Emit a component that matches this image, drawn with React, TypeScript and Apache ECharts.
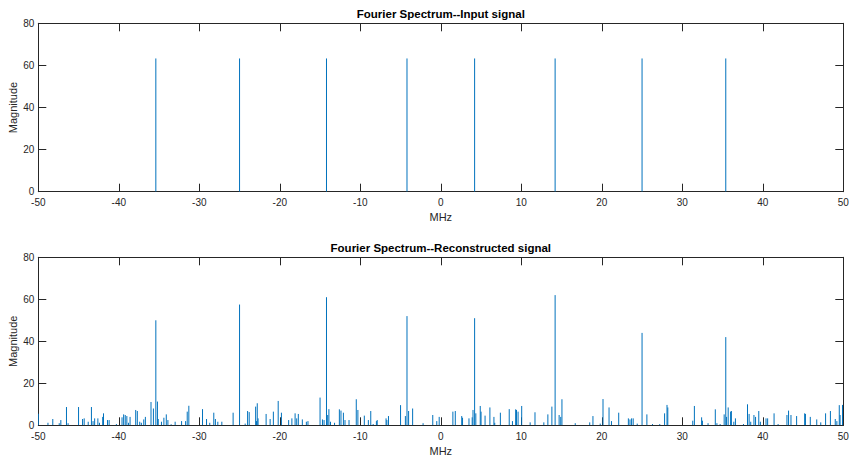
import React, { useEffect, useRef } from "react";
import * as echarts from "echarts";

// Tick labels
const xTicks = [-50, -40, -30, -20, -10, 0, 10, 20, 30, 40, 50];
const yTicks = [0, 20, 40, 60, 80];

// Input signal spectrum (MHz, magnitude)
const inputFreq = [-35.4, -25.0, -14.2, -4.2, 4.2, 14.2, 25.0, 35.4];
const inputMag = [63.3, 63.3, 63.3, 63.3, 63.3, 63.3, 63.3, 63.3];

// Reconstructed signal spectrum (MHz, magnitude)
const reconFreq = [
  -50.0, -48.8, -48.2, -47.4, -47.2, -46.5, -46.3, -45.0, -44.5, -44.3, -43.8, -43.4, -43.2, -43.0,
  -42.6, -42.4, -42.0, -41.9, -41.4, -41.2, -40.3, -39.6, -39.4, -39.2, -39.0, -38.8, -38.6, -37.9,
  -37.7, -37.4, -37.2, -36.9, -36.7, -36.0, -35.7, -35.4, -35.2, -35.1, -34.7, -34.4, -34.1, -33.9,
  -33.5, -33.0, -32.2, -31.7, -31.5, -31.3, -29.6, -29.1, -28.7, -28.2, -28.0, -27.7, -27.2, -25.8,
  -25.0, -24.3, -24.0, -23.8, -23.0, -22.9, -22.8, -22.7, -21.7, -21.2, -20.8, -20.2, -19.8, -18.9,
  -18.5, -18.1, -17.9, -17.7, -17.2, -16.7, -16.5, -15.0, -14.7, -14.5, -14.2, -14.05, -13.9, -13.7,
  -13.2, -12.6, -12.4, -12.1, -11.9, -11.4, -10.5, -10.3, -9.5, -9.0, -8.7, -8.4, -8.0, -7.9,
  -6.8, -6.7, -6.5, -5.0, -4.4, -4.2, -4.0, -3.5, -2.2, -1.0, -0.5, -0.2, 1.5, 1.8,
  2.6, 2.7, 3.5, 3.9, 4.0, 4.2, 4.35, 4.9, 5.0, 5.5, 6.1, 6.6, 6.7, 7.4,
  8.5, 8.9, 9.3, 9.4, 9.6, 10.05, 11.1, 11.7, 12.8, 13.3, 13.8, 14.2, 14.7, 14.9,
  15.05, 16.7, 18.5, 18.9, 19.8, 20.15, 20.9, 21.2, 22.1, 23.3, 23.5, 23.7, 23.9, 24.4,
  25.0, 25.6, 26.3, 27.2, 27.8, 28.1, 28.2, 31.3, 31.5, 32.4, 32.5, 33.2, 34.1, 34.3,
  34.7, 35.2, 35.4, 35.5, 35.7, 36.0, 36.1, 36.4, 36.6, 37.6, 38.1, 38.3, 38.5, 38.9,
  39.1, 39.5, 39.7, 40.4, 40.6, 41.4, 41.9, 43.0, 43.2, 43.5, 44.2, 45.2, 45.3, 45.9,
  46.7, 47.2, 47.8, 48.4, 49.0, 49.2, 49.5, 49.6, 49.9,
];
const reconMag = [
  5.5, 1.2, 3.0, 1.0, 2.5, 8.7, 1.0, 8.7, 3.0, 3.3, 1.7, 8.7, 2.0, 3.3,
  3.3, 1.2, 4.0, 5.7, 2.5, 2.5, 0.6, 3.8, 5.2, 4.9, 4.4, 1.2, 4.0, 7.3,
  6.8, 1.7, 1.2, 2.8, 4.0, 11.1, 8.0, 50.0, 11.3, 3.0, 1.7, 3.6, 5.2, 2.5,
  0.5, 1.7, 2.0, 2.0, 6.5, 9.3, 7.7, 3.0, 1.2, 6.0, 3.0, 1.7, 1.7, 6.0,
  57.5, 0.8, 6.8, 6.3, 8.9, 2.0, 10.5, 3.3, 5.4, 3.0, 6.5, 11.6, 6.0, 2.5,
  3.3, 5.7, 3.3, 5.4, 2.8, 1.7, 2.0, 13.2, 2.8, 2.5, 61.0, 4.9, 7.7, 1.7,
  1.2, 7.6, 7.0, 6.0, 2.5, 2.5, 12.4, 7.3, 4.6, 2.5, 6.8, 0.6, 2.0, 2.5,
  3.3, 2.5, 4.4, 9.6, 4.4, 52.0, 6.8, 8.0, 1.0, 4.9, 2.0, 4.0, 6.5, 6.8,
  4.4, 3.6, 3.3, 3.8, 7.3, 51.0, 5.7, 9.2, 6.5, 4.6, 8.5, 4.0, 1.2, 6.0,
  7.7, 2.0, 7.6, 7.3, 6.5, 9.2, 1.4, 6.2, 1.4, 5.2, 8.9, 62.0, 4.9, 4.0,
  12.4, 1.0, 1.4, 4.4, 0.8, 12.5, 8.5, 2.0, 6.0, 3.3, 2.8, 3.3, 3.3, 0.8,
  44.0, 5.2, 0.6, 0.6, 5.7, 9.7, 8.5, 2.2, 9.2, 3.8, 2.2, 1.0, 7.6, 1.0,
  0.6, 5.2, 42.0, 4.0, 8.5, 6.5, 6.8, 1.7, 3.3, 0.6, 10.0, 5.4, 1.7, 4.9,
  4.0, 6.8, 1.7, 3.3, 3.3, 5.7, 0.6, 4.9, 7.0, 4.9, 4.4, 5.7, 5.4, 4.0,
  2.8, 1.4, 5.7, 6.8, 3.0, 2.0, 9.6, 4.9, 9.7,
];

const titles = ["Fourier Spectrum--Input signal", "Fourier Spectrum--Reconstructed signal"];
const xName = "MHz";
const yName = "Magnitude";

const AXIS_COLOR = "#262626";
const STEM_COLOR = "#0072BD";
const FONT = "Liberation Sans, Arial, Helvetica, sans-serif";

function stemRender(params: any, api: any) {
  const x = api.value(0);
  const y = api.value(1);
  const p0 = api.coord([x, 0]);
  const p1 = api.coord([x, y]);
  return {
    type: "line",
    shape: { x1: p0[0], y1: p0[1], x2: p1[0], y2: p1[1] },
    style: { stroke: STEM_COLOR, lineWidth: 1 },
  };
}

export default function App() {
  const ref = useRef<HTMLDivElement>(null);
  useEffect(() => {
    if (!ref.current) return;
    const chart = echarts.init(ref.current, undefined, { renderer: "svg" });
    const grids = [
      { left: 38.3, top: 23.3, width: 805, height: 168.4, containLabel: false, outerBoundsMode: "none" },
      { left: 38.3, top: 257.3, width: 805, height: 168, containLabel: false, outerBoundsMode: "none" },
    ];
    const xAxes: any[] = [];
    const yAxes: any[] = [];
    grids.forEach((g, i) => {
      const baseX = {
        type: "value",
        gridIndex: i,
        min: xTicks[0],
        max: xTicks[xTicks.length - 1],
        interval: 10,
        splitLine: { show: false },
        axisLine: { show: true, onZero: false, lineStyle: { color: AXIS_COLOR, width: 1 } },
        axisTick: { show: true, inside: true, length: 8, lineStyle: { color: AXIS_COLOR, width: 1 } },
      };
      xAxes.push({
        ...baseX,
        position: "bottom",
        name: xName,
        nameLocation: "middle",
        nameGap: 20,
        nameMoveOverlap: false,
        nameTextStyle: { color: AXIS_COLOR, fontSize: 11, fontFamily: FONT },
        axisLabel: { show: true, color: AXIS_COLOR, fontSize: 10, fontFamily: FONT, margin: 6 },
      });
      xAxes.push({ ...baseX, position: "top", axisLabel: { show: false } });
      const baseY = {
        type: "value",
        gridIndex: i,
        min: yTicks[0],
        max: yTicks[yTicks.length - 1],
        interval: 20,
        splitLine: { show: false },
        axisLine: { show: true, onZero: false, lineStyle: { color: AXIS_COLOR, width: 1 } },
        axisTick: { show: true, inside: true, length: 8, lineStyle: { color: AXIS_COLOR, width: 1 } },
      };
      yAxes.push({
        ...baseY,
        position: "left",
        name: yName,
        nameLocation: "middle",
        nameGap: 19.5,
        nameMoveOverlap: false,
        nameTextStyle: { color: AXIS_COLOR, fontSize: 11, fontFamily: FONT },
        axisLabel: { show: true, color: AXIS_COLOR, fontSize: 10, fontFamily: FONT, margin: 4 },
      });
      yAxes.push({ ...baseY, position: "right", axisLabel: { show: false } });
    });

    const inputData = inputFreq.map((f, i) => [f, inputMag[i]]);
    const reconData = reconFreq.map((f, i) => [f, reconMag[i]]);

    chart.setOption({
      animation: false,
      backgroundColor: "#ffffff",
      grid: grids,
      xAxis: xAxes,
      yAxis: yAxes,
      graphic: titles.map((t, i) => ({
        type: "text",
        x: grids[i].left + grids[i].width / 2,
        y: grids[i].top - 9,
        style: {
          text: t,
          fill: "#000000",
          font: `bold 11.5px ${FONT}`,
          textAlign: "center",
          textVerticalAlign: "middle",
        },
      })),
      series: [
        {
          type: "custom",
          xAxisIndex: 0,
          yAxisIndex: 0,
          renderItem: stemRender,
          encode: { x: 0, y: 1 },
          data: inputData,
          clip: true,
        },
        {
          type: "custom",
          xAxisIndex: 2,
          yAxisIndex: 2,
          renderItem: stemRender,
          encode: { x: 0, y: 1 },
          data: reconData,
          clip: true,
        },
      ],
    });
    return () => chart.dispose();
  }, []);
  return (
    <div
      ref={ref}
      style={{ position: "fixed", left: 0, top: 0, width: 849, height: 459, background: "#fff" }}
    />
  );
}
